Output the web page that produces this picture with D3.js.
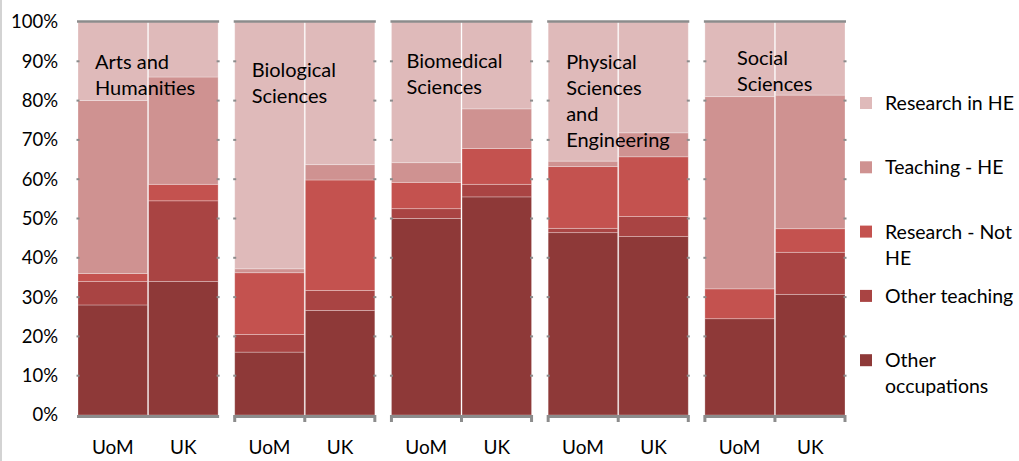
<!DOCTYPE html>
<html>
<head>
<meta charset="utf-8">
<script src="https://cdn.jsdelivr.net/npm/d3@7"></script>
<style>
  body { margin: 0; background: #fff; }
  svg { display: block; font-family: Lato, "Open Sans", sans-serif; }
</style>
</head>
<body>
<div class="js-chart"></div>
<script>
// Subjects (panels) and the two bars in each
var subjects = ["Arts and Humanities", "Biological Sciences", "Biomedical Sciences", "Physical Sciences and Engineering", "Social Sciences"];
var groups = ["UoM", "UK"];

// Stack order, bottom to top
var occupations = ["Other occupations", "Other teaching", "Research - Not HE", "Teaching - HE", "Research in HE"];

// values in %, order: Arts UoM, Arts UK, Bio UoM, Bio UK, Biomed UoM, Biomed UK, Phys UoM, Phys UK, Soc UoM, Soc UK
var otherOccupations = [28, 34, 16, 26.6, 50, 55.5, 46.4, 45.4, 24.5, 30.7];
var otherTeaching    = [6, 20.5, 4.5, 5.1, 2.5, 3.2, 1.1, 5.1, 0, 10.7];
var researchNotHE    = [2, 4.2, 15.7, 28.1, 6.7, 9.1, 15.7, 15.2, 7.6, 6];
var teachingHE       = [44, 27.3, 1, 3.9, 5, 10.1, 1.4, 6.1, 48.9, 34];
var researchHE       = [20, 14, 62.8, 36.3, 35.8, 22.1, 35.4, 28.2, 19, 18.6];

var yTicks = [0, 10, 20, 30, 40, 50, 60, 70, 80, 90, 100];

var colors = ["#8e3938", "#a94443", "#c4524f", "#cf9291", "#dfbaba"];

// build rows for d3.stack
var series = [otherOccupations, otherTeaching, researchNotHE, teachingHE, researchHE];
var rows = [];
subjects.forEach(function(s, i) {
  groups.forEach(function(g, j) {
    var row = { subject: s, group: g };
    occupations.forEach(function(o, k) { row[o] = series[k][i * 2 + j]; });
    rows.push(row);
  });
});

var width = 1019, height = 461;
var svg = d3.select(".js-chart").append("svg")
  .attr("width", width)
  .attr("height", height);

// left border of the picture
svg.append("line")
  .attr("x1", 1).attr("x2", 1).attr("y1", 0).attr("y2", height)
  .attr("stroke", "#c4c4c4").attr("stroke-width", 1.5);

var y = d3.scaleLinear().domain([0, 100]).range([415, 22]);

var panelScale = d3.scaleBand()
  .domain(subjects)
  .range([78, 845])
  .paddingInner(0.106);

var barScale = d3.scaleBand()
  .domain(groups)
  .range([0, panelScale.bandwidth()])
  .paddingInner(0.015);

var color = d3.scaleOrdinal().domain(occupations).range(colors);

var stacked = d3.stack().keys(occupations)(rows);

// y axis labels
var yAxis = d3.axisLeft(y)
  .tickValues(yTicks)
  .tickFormat(function(d) { return d + "%"; })
  .tickSize(0)
  .tickPadding(20);

svg.append("g")
  .attr("transform", "translate(78,0)")
  .call(yAxis)
  .call(function(g) { g.select(".domain").remove(); })
  .selectAll("text")
  .attr("font-size", 18.5)
  .attr("font-family", "Lato, sans-serif")
  .attr("fill", "#000");

// title placement inside each panel (x offset, first baseline)
var titleLines = [["Arts and", "Humanities"], ["Biological", "Sciences"], ["Biomedical", "Sciences"], ["Physical", "Sciences", "and", "Engineering"], ["Social", "Sciences"]];
var titlePos = [[17, 69], [17, 77], [15, 68], [18, 69], [32, 65]];

subjects.forEach(function(s, i) {
  var x0 = panelScale(s);
  var w = panelScale.bandwidth();
  var g = svg.append("g").attr("transform", "translate(" + x0 + ",0)");

  // bars
  stacked.forEach(function(layer) {
    layer.forEach(function(d) {
      if (d.data.subject !== s) return;
      if (d[1] - d[0] <= 0) return;
      g.append("rect")
        .attr("x", barScale(d.data.group))
        .attr("y", y(d[1]))
        .attr("width", barScale.bandwidth())
        .attr("height", y(d[0]) - y(d[1]))
        .attr("fill", color(layer.key))
        .attr("stroke", "rgba(255,255,255,0.35)")
        .attr("stroke-width", 0.8);
    });
  });

  // top border
  g.append("line")
    .attr("x1", -1).attr("x2", w + 1)
    .attr("y1", y(100) - 0.5).attr("y2", y(100) - 0.5)
    .attr("stroke", "#8c8c8c").attr("stroke-width", 2.5);

  // small tick marks on both vertical edges
  [0, w].forEach(function(ex) {
    g.selectAll(null)
      .data(yTicks.slice(1, -1))
      .enter().append("rect")
      .attr("x", ex - 1.5)
      .attr("y", function(d) { return y(d) - 1; })
      .attr("width", 3)
      .attr("height", 2)
      .attr("fill", "#8c8c8c");
  });

  // bottom axis
  g.append("line")
    .attr("x1", -1).attr("x2", w + 1)
    .attr("y1", y(0) + 1.5).attr("y2", y(0) + 1.5)
    .attr("stroke", "#8c8c8c").attr("stroke-width", 3);

  if (i > 0) {
    [0, w / 2, w].forEach(function(tx) {
      g.append("line")
        .attr("x1", tx).attr("x2", tx)
        .attr("y1", y(0)).attr("y2", y(0) + 7)
        .attr("stroke", "#8c8c8c").attr("stroke-width", 3);
    });
  }

  // category labels
  g.selectAll(".cat")
    .data(groups)
    .enter().append("text")
    .attr("class", "cat")
    .attr("x", function(d) { return barScale(d) + barScale.bandwidth() / 2; })
    .attr("y", 454)
    .attr("text-anchor", "middle")
    .attr("font-size", 19)
    .attr("fill", "#000")
    .text(function(d) { return d; });

  // panel title
  var t = g.append("text")
    .attr("x", titlePos[i][0])
    .attr("y", titlePos[i][1])
    .attr("font-size", 20)
    .attr("fill", "#000");
  titleLines[i].forEach(function(line, k) {
    t.append("tspan")
      .attr("x", titlePos[i][0])
      .attr("dy", k === 0 ? 0 : 26)
      .text(line);
  });
});

// legend, top to bottom in reverse stack order
var legendLines = {
  "Research in HE": ["Research in HE"],
  "Teaching - HE": ["Teaching - HE"],
  "Research - Not HE": ["Research - Not", "HE"],
  "Other teaching": ["Other teaching"],
  "Other occupations": ["Other", "occupations"]
};
var legendOrder = occupations.slice().reverse();
var legend = svg.append("g").attr("transform", "translate(860,103)");

legendOrder.forEach(function(o, i) {
  var ly = i * 64.3;
  legend.append("rect")
    .attr("x", 0).attr("y", ly - 6)
    .attr("width", 12).attr("height", 12)
    .attr("fill", color(o));
  var t = legend.append("text")
    .attr("x", 25).attr("y", ly + 7)
    .attr("font-size", 19.5)
    .attr("fill", "#000");
  legendLines[o].forEach(function(line, k) {
    t.append("tspan")
      .attr("x", 25)
      .attr("dy", k === 0 ? 0 : 26)
      .text(line);
  });
});
</script>
</body>
</html>
